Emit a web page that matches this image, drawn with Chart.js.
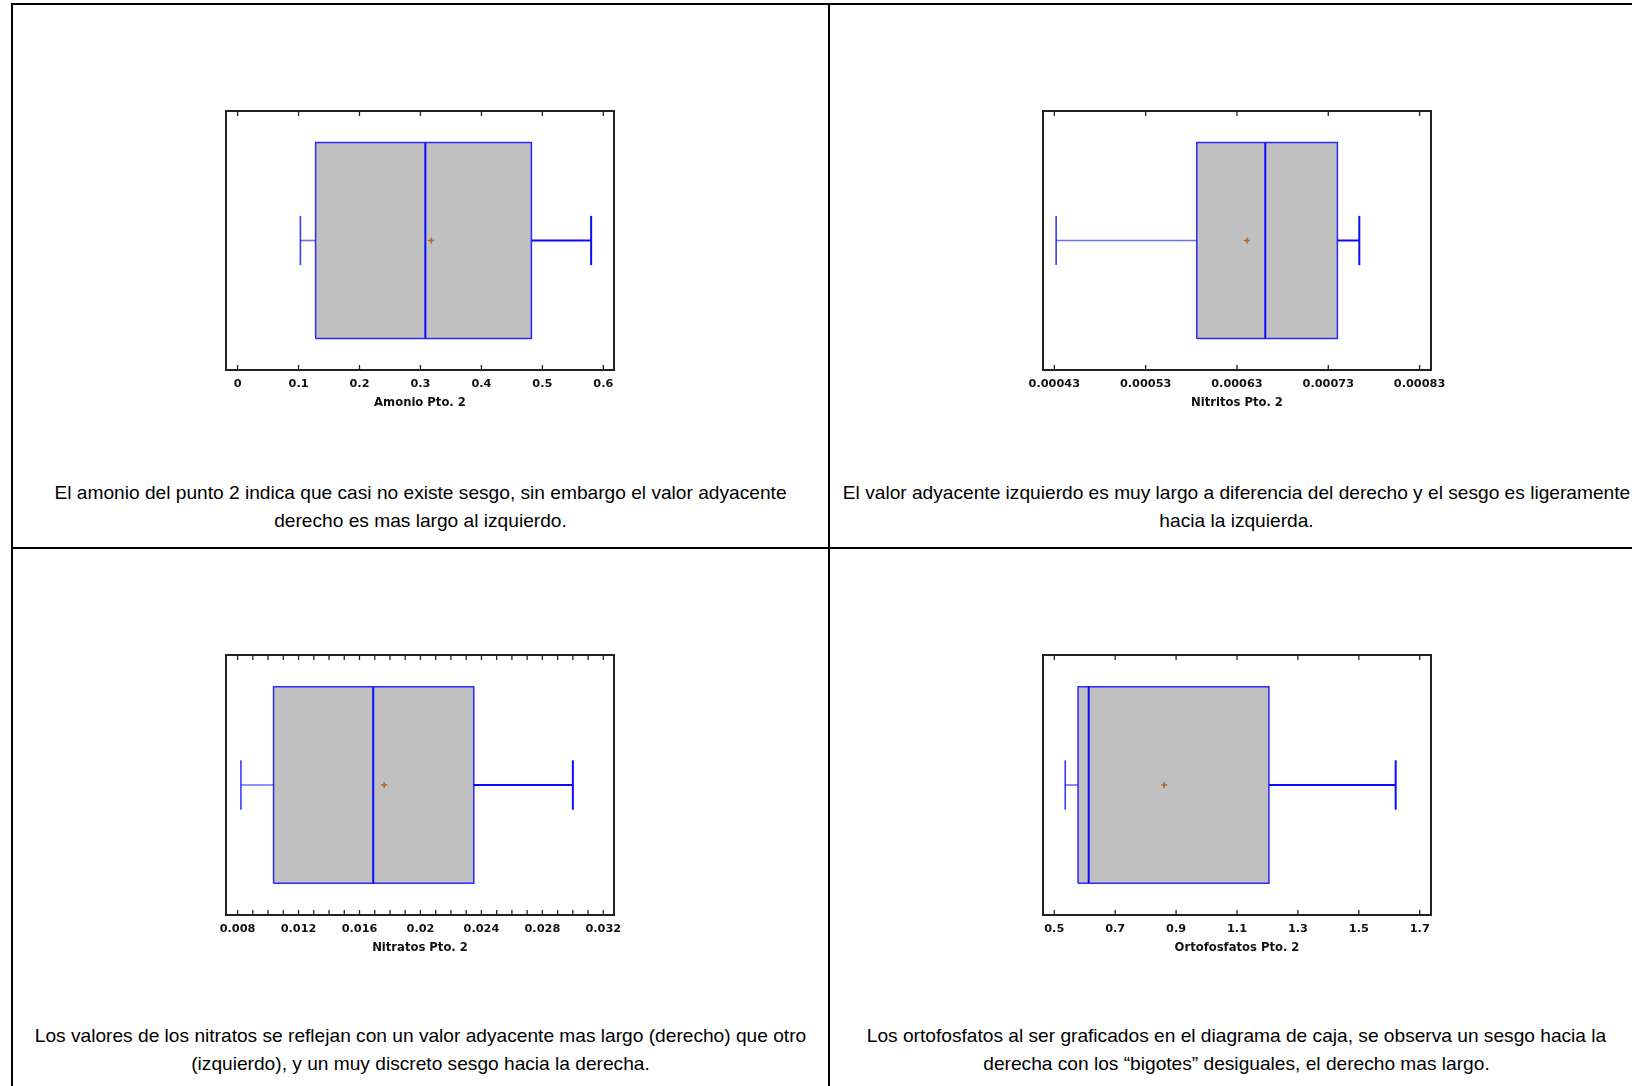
<!DOCTYPE html>
<html lang="es">
<head>
<meta charset="utf-8">
<title>Diagramas de caja – Punto 2</title>
<script src="https://cdn.jsdelivr.net/npm/chart.js@4.4.1/dist/chart.umd.min.js"></script>
<style>
  html, body { margin: 0; padding: 0; background: #fff; }
  body { width: 1632px; height: 1086px; position: relative; overflow: hidden;
         font-family: "Liberation Sans", Arial, sans-serif; }
  .rule { position: absolute; background: #000; }
  .plot { position: absolute; }
  .caption { position: absolute; font-size: 19.15px; line-height: 28px; color: #000;
             text-align: center; white-space: nowrap; transform: translateX(-50%); }
</style>
</head>
<body>
<!-- table rules -->
<div class="rule" style="left:11px;top:3px;width:1621px;height:2px"></div>
<div class="rule" style="left:11px;top:3px;width:2px;height:1083px"></div>
<div class="rule" style="left:828px;top:3px;width:2px;height:1083px"></div>
<div class="rule" style="left:11px;top:547px;width:1621px;height:2px"></div>

<div class="caption" style="left:420.5px;top:478.5px">El amonio del punto 2 indica que casi no existe sesgo, sin embargo el valor adyacente<br>derecho es mas largo al izquierdo.</div>
<div class="caption" style="left:1236.5px;top:478.5px">El valor adyacente izquierdo es muy largo a diferencia del derecho y el sesgo es ligeramente<br>hacia la izquierda.</div>
<div class="caption" style="left:420.5px;top:1022px">Los valores de los nitratos se reflejan con un valor adyacente mas largo (derecho) que otro<br>(izquierdo), y un muy discreto sesgo hacia la derecha.</div>
<div class="caption" style="left:1236.5px;top:1022px">Los ortofosfatos al ser graficados en el diagrama de caja, se observa un sesgo hacia la<br>derecha con los “bigotes” desiguales, el derecho mas largo.</div>

<script>
// ---- data: five-number summaries and means, one entry per parameter ----
const variables   = ['Amonio Pto. 2', 'Nitritos Pto. 2', 'Nitratos Pto. 2', 'Ortofosfatos Pto. 2'];
const whiskerLow  = [0.103, 0.000432, 0.00822, 0.536];
const quartile1   = [0.128, 0.000586, 0.01036, 0.578];
const medians     = [0.308, 0.000661, 0.0169,  0.613];
const quartile3   = [0.482, 0.000740, 0.0235,  1.205];
const whiskerHigh = [0.580, 0.000764, 0.0300,  1.621];
const means       = [0.3175, 0.000641, 0.01762, 0.861];

// ---- axis ranges and ticks ----
const axisMin = [-0.019, 0.0004176, 0.00724, 0.463];
const axisMax = [0.6175, 0.0008425, 0.0327, 1.737];

const amonioTicks      = [0, 0.1, 0.2, 0.3, 0.4, 0.5, 0.6];
const amonioLabels     = ['0', '0.1', '0.2', '0.3', '0.4', '0.5', '0.6'];
const nitritosTicks    = [0.00043, 0.00053, 0.00063, 0.00073, 0.00083];
const nitritosLabels   = ['0.00043', '0.00053', '0.00063', '0.00073', '0.00083'];
const nitratosTicks    = [0.008, 0.012, 0.016, 0.02, 0.024, 0.028, 0.032];
const nitratosLabels   = ['0.008', '0.012', '0.016', '0.02', '0.024', '0.028', '0.032'];
const nitratosMinor    = [0.009, 0.010, 0.011, 0.013, 0.014, 0.015, 0.017, 0.018, 0.019,
                          0.021, 0.022, 0.023, 0.025, 0.026, 0.027, 0.029, 0.030, 0.031];
const ortofosTicks     = [0.5, 0.7, 0.9, 1.1, 1.3, 1.5, 1.7];
const ortofosLabels    = ['0.5', '0.7', '0.9', '1.1', '1.3', '1.5', '1.7'];

const tickSets   = [amonioTicks, nitritosTicks, nitratosTicks, ortofosTicks];
const labelSets  = [amonioLabels, nitritosLabels, nitratosLabels, ortofosLabels];
const minorSets  = [[], [], nitratosMinor, []];

// ---- drawing geometry (page pixels of each plot frame) ----
const frames = [
  { l: 226,  t: 111, r: 614,  b: 370 },
  { l: 1043, t: 111, r: 1431, b: 370 },
  { l: 226,  t: 655, r: 614,  b: 915 },
  { l: 1043, t: 655, r: 1431, b: 915 }
];
const BOX_LO = 0.122, BOX_HI = 0.878, CAP_LO = 0.405, CAP_HI = 0.595, MID = 0.5;

const TICK_FONT = 11.3, TITLE_FONT = 11.6, TICK_PAD = 7.2, TITLE_PAD_TOP = -2.2;
const AXIS_H = TICK_FONT * 1.2 + 2 * TICK_PAD + TITLE_FONT * 1.2 + TITLE_PAD_TOP;

Chart.defaults.font.family = '"DejaVu Sans", "Liberation Sans", sans-serif';
Chart.defaults.color = '#111';

const FRAME_COLOR = '#222';
const BLUE = '#0a0aff';

// inward tick marks along the top and bottom edges of the frame
const innerTicks = {
  id: 'innerTicks',
  afterDatasetsDraw(chart) {
    const xs = chart.scales.x;
    const { top, bottom } = chart.chartArea;
    const ctx = chart.ctx;
    ctx.save();
    ctx.strokeStyle = FRAME_COLOR;
    ctx.lineWidth = 1.3;
    ctx.beginPath();
    xs.ticks.forEach(t => {
      const px = xs.getPixelForValue(t.value);
      ctx.moveTo(px, bottom);
      ctx.lineTo(px, bottom - 5);
      ctx.moveTo(px, top);
      ctx.lineTo(px, top + 5);
    });
    ctx.stroke();
    ctx.restore();
  }
};

function seg(x1, y1, x2, y2) { return [{ x: x1, y: y1 }, { x: x2, y: y2 }]; }

function buildPanel(i) {
  const f = frames[i];
  const pad = { left: 60, right: 60, top: 12, bottom: 8 };
  const width = Math.round(f.r - f.l + pad.left + pad.right);
  const height = Math.round(f.b - f.t + pad.top + AXIS_H + pad.bottom);

  const holder = document.createElement('div');
  holder.className = 'plot';
  holder.style.left = (f.l - pad.left) + 'px';
  holder.style.top = (f.t - pad.top) + 'px';
  const canvas = document.createElement('canvas');
  canvas.width = width;
  canvas.height = height;
  holder.appendChild(canvas);
  document.body.appendChild(holder);

  const layoutPad = { left: pad.left, right: width - pad.left - (f.r - f.l),
                      top: pad.top, bottom: height - pad.top - (f.b - f.t) - AXIS_H };

  // combined major + minor tick list
  const ticks = tickSets[i].map((v, k) => ({ value: v, label: labelSets[i][k] }))
    .concat(minorSets[i].map(v => ({ value: v, label: '' })))
    .sort((a, b) => a.value - b.value);

  const q1 = quartile1[i], q3 = quartile3[i], md = medians[i];
  const line = (data, color, w, order) => ({
    data, showLine: true, fill: false, borderColor: color, borderWidth: w,
    pointRadius: 0, order: order || 0
  });

  const datasets = [
    line(seg(md, BOX_LO, md, BOX_HI), BLUE, 2),
    line(seg(whiskerLow[i], MID, q1, MID), 'rgba(10,10,255,0.6)', 1.6),
    line(seg(q3, MID, whiskerHigh[i], MID), BLUE, 2),
    line(seg(whiskerLow[i], CAP_LO, whiskerLow[i], CAP_HI), 'rgba(10,10,255,0.8)', 1.6),
    line(seg(whiskerHigh[i], CAP_LO, whiskerHigh[i], CAP_HI), BLUE, 2),
    {
      data: [{ x: means[i], y: MID }], showLine: false, pointStyle: 'cross',
      pointRadius: 3, borderColor: '#b8642f', borderWidth: 1.5, order: 0
    },
    {
      data: [{ x: q1, y: BOX_LO }, { x: q3, y: BOX_LO }, { x: q3, y: BOX_HI },
             { x: q1, y: BOX_HI }, { x: q1, y: BOX_LO }],
      showLine: true, fill: 'shape', backgroundColor: '#c0c0c0',
      borderColor: 'rgba(10,10,255,0.85)', borderWidth: 1.5, pointRadius: 0, order: 5
    }
  ];

  const hiddenAxis = (position) => ({
    type: 'linear', position, min: 0, max: 1, display: true,
    grid: { display: false, drawTicks: false },
    ticks: { display: false },
    border: { display: true, color: FRAME_COLOR, width: 2 }
  });

  return new Chart(canvas, {
    type: 'scatter',
    data: { datasets },
    options: {
      responsive: false,
      animation: false,
      events: [],
      layout: { padding: layoutPad },
      plugins: { legend: { display: false }, tooltip: { enabled: false } },
      scales: {
        x: {
          type: 'linear', position: 'bottom', min: axisMin[i], max: axisMax[i],
          afterBuildTicks: (scale) => { scale.ticks = ticks.map(t => ({ value: t.value })); },
          ticks: {
            autoSkip: false, maxRotation: 0, minRotation: 0, padding: TICK_PAD,
            font: { size: TICK_FONT, weight: 'bold' }, color: '#111',
            callback: (v, idx) => ticks[idx] ? ticks[idx].label : ''
          },
          grid: { display: false, drawTicks: false },
          border: { display: true, color: FRAME_COLOR, width: 2 },
          title: {
            display: true, text: variables[i], color: '#111',
            font: { size: TITLE_FONT, weight: 'bold' },
            padding: { top: TITLE_PAD_TOP, bottom: 0 }
          }
        },
        x2: {
          type: 'linear', position: 'top', min: axisMin[i], max: axisMax[i], display: true,
          grid: { display: false, drawTicks: false },
          ticks: { display: false },
          border: { display: true, color: FRAME_COLOR, width: 2 }
        },
        y: hiddenAxis('left'),
        y2: hiddenAxis('right')
      }
    },
    plugins: [innerTicks]
  });
}

variables.forEach((_, i) => buildPanel(i));
</script>
</body>
</html>
